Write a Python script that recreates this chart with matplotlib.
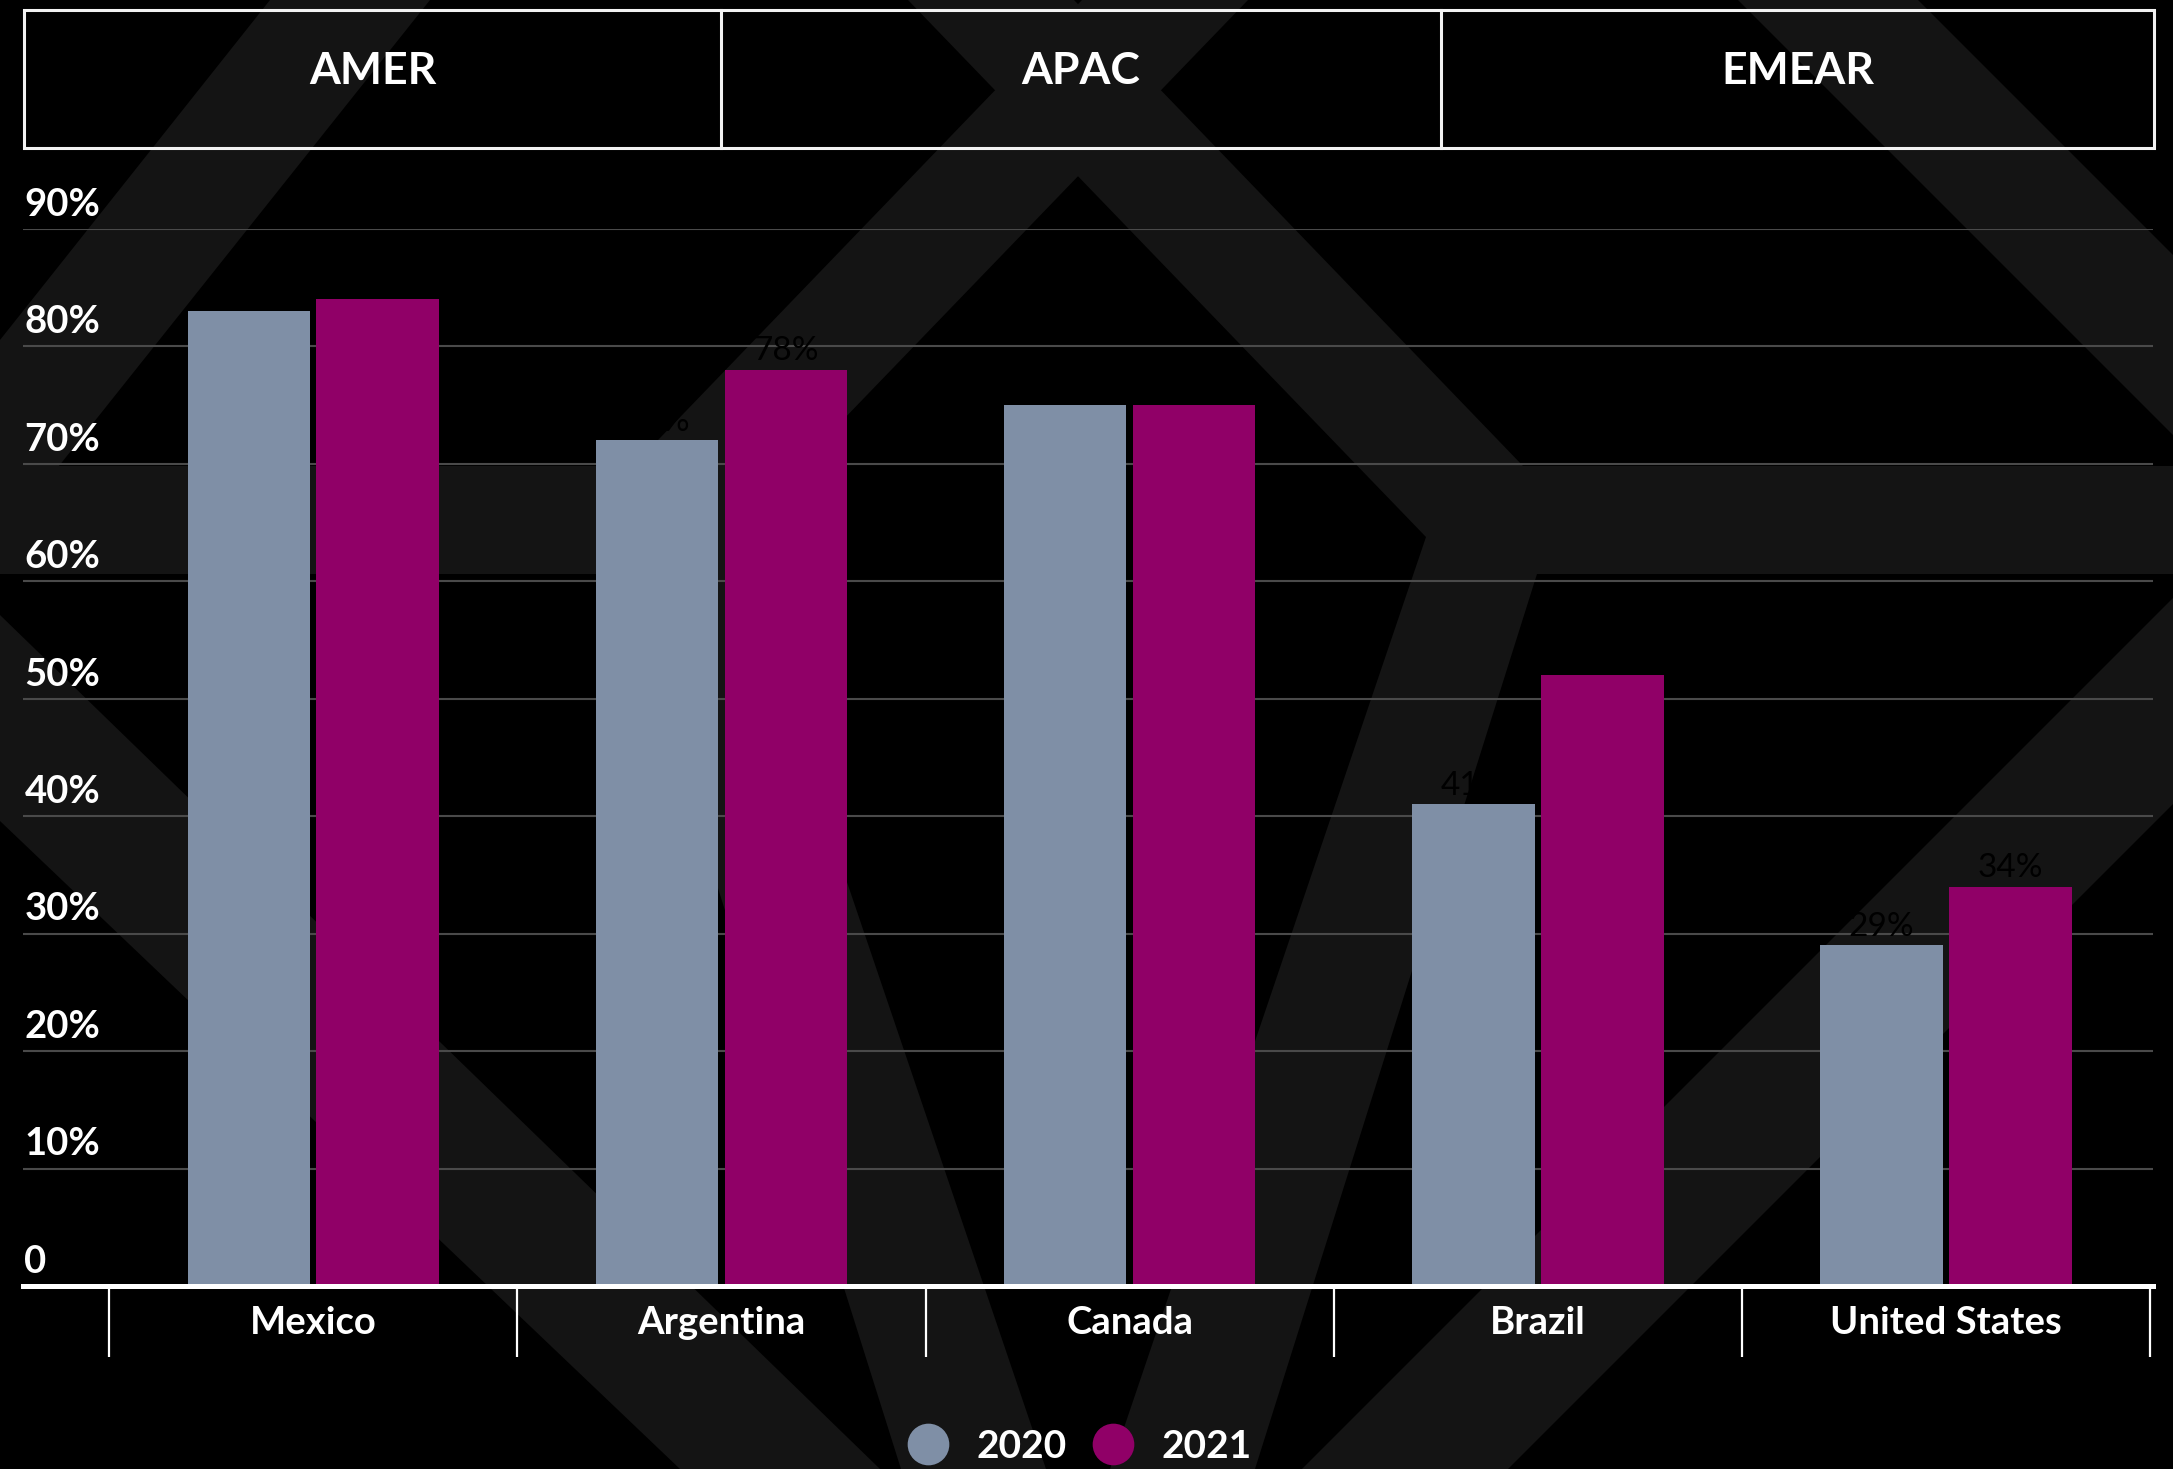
import numpy as np
import matplotlib
matplotlib.use('Agg')
from matplotlib import pyplot as plt
from matplotlib.patches import Polygon, Rectangle
from matplotlib.lines import Line2D

plt.rcParams['font.family'] = ['Lato', 'DejaVu Sans']

# Data
countries = ['Mexico', 'Argentina', 'Canada', 'Brazil', 'United States']
values_2020 = [83, 72, 75, 41, 29]
values_2021 = [84, 78, 75, 52, 34]
years = ['2020', '2021']
regions = ['AMER', 'APAC', 'EMEAR']
y_ticks = [0, 10, 20, 30, 40, 50, 60, 70, 80, 90]
y_tick_labels = ['0', '10%', '20%', '30%', '40%', '50%', '60%', '70%', '80%', '90%']

color_2020 = '#7f8fa6'
color_2021 = '#900067'
shape_color = '#141414'

W, H = 2173, 1469
fig = plt.figure(figsize=(W / 100, H / 100), dpi=100, facecolor='black')

# Background decoration, drawn in pixel coordinates (y down)
bg = fig.add_axes([0, 0, 1, 1], zorder=0)
bg.set_xlim(0, W)
bg.set_ylim(H, 0)
bg.axis('off')
bg.set_facecolor('black')

shapes = [
    [(270, 0), (430, 0), (0, 540), (0, 340)],
    [(1738, 0), (1918, 0), (2173, 255), (2173, 435)],
    [(908, 0), (1074, 0), (1523, 466), (2173, 466), (2173, 574), (1537, 574),
     (1255, 1469), (1110, 1469), (1426, 537)],
    [(1248, 0), (1082, 0), (633, 466), (0, 466), (0, 574), (619, 574),
     (901, 1469), (1046, 1469), (730, 537)],
    [(0, 615), (880, 1469), (680, 1469), (0, 821)],
    [(2173, 598), (2173, 804), (1508, 1469), (1302, 1469)],
]
for pts in shapes:
    bg.add_patch(Polygon(pts, closed=True, facecolor=shape_color, edgecolor='none'))

# Region header
box_edges = [24, 721, 1441, 2154]
bg.add_patch(Rectangle((box_edges[0], 10), box_edges[-1] - box_edges[0], 138,
                       fill=False, edgecolor='#f2f2f2', lw=2.2))
for xe in box_edges[1:-1]:
    bg.plot([xe, xe], [10, 148], color='#f2f2f2', lw=2.2)
for i, name in enumerate(regions):
    cx = (box_edges[i] + box_edges[i + 1]) / 2
    bg.text(cx, 84, name, color='white', fontsize=32, fontweight='bold',
            ha='center', va='baseline')

# Main chart
ax = fig.add_axes([23 / W, 183 / H, 2130 / W, 1057 / H], zorder=1)
ax.patch.set_alpha(0)
ax.set_xlim(-0.711, 4.507)
ax.set_ylim(0, 90)

x = np.arange(len(countries))
bars_2020 = ax.bar(x - 0.158, values_2020, width=0.3, color=color_2020, zorder=3)
bars_2021 = ax.bar(x + 0.158, values_2021, width=0.3, color=color_2021, zorder=3)

ax.bar_label(bars_2020, labels=[f'{v}%' for v in values_2020], padding=2.5,
             color='#000000', fontsize=24)
ax.bar_label(bars_2021, labels=[f'{v}%' for v in values_2021], padding=2.5,
             color='#000000', fontsize=24)

ax.set_yticks(y_ticks)
ax.set_xticks([])
ax.yaxis.grid(True, color='#4a4a4a', lw=1.5)
ax.set_axisbelow(True)
ax.tick_params(axis='y', length=0, labelleft=False)
for s in ax.spines.values():
    s.set_visible(False)

for v, lab in zip(y_ticks, y_tick_labels):
    ax.annotate(lab, xy=(0, v), xycoords=ax.get_yaxis_transform(),
                xytext=(1, 9.5), textcoords='offset points', ha='left',
                va='baseline', color='white', fontsize=27.5, fontweight='bold',
                annotation_clip=False)

ax.axhline(0, color='white', lw=3.6, zorder=4, clip_on=False)
ax.vlines(np.arange(len(countries) + 1) - 0.5, -0.0672, 0,
          transform=ax.get_xaxis_transform(), colors='white', lw=1.6,
          clip_on=False)
for i, c in enumerate(countries):
    ax.annotate(c, xy=(i, 0), xycoords=ax.get_xaxis_transform(),
                xytext=(0, -34.6), textcoords='offset points', ha='center',
                va='baseline', color='white', fontsize=27.5, fontweight='bold',
                annotation_clip=False)

# Legend
handles = [Line2D([], [], marker='o', ls='none', markersize=30,
                  markerfacecolor=c, markeredgecolor='none')
           for c in (color_2020, color_2021)]
fig.legend(handles, years, loc='center', bbox_to_anchor=(1080 / W, 1 - 1446 / H),
           ncol=2, frameon=False, labelcolor='white',
           prop={'size': 28, 'weight': 'bold'}, handletextpad=0.75,
           columnspacing=0.7, handlelength=1.0, borderpad=0)

fig.savefig('out.png', dpi=100, facecolor='black')
